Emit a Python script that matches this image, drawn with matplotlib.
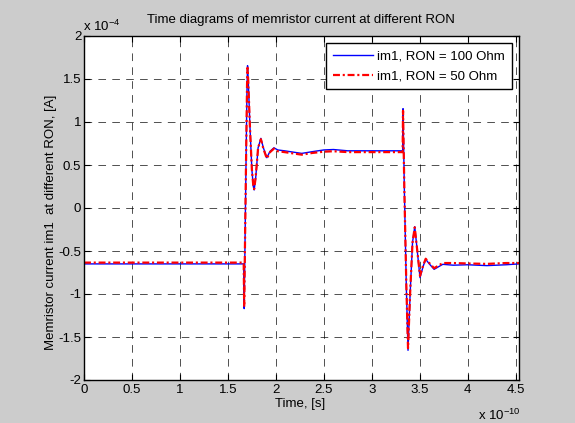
import numpy as np
import matplotlib
matplotlib.use('Agg')
import matplotlib.pyplot as plt

plt.rcParams['font.family'] = ['Liberation Sans', 'DejaVu Sans']
plt.rcParams['mathtext.fontset'] = 'custom'
plt.rcParams['mathtext.rm'] = 'Liberation Sans'
plt.rcParams['mathtext.it'] = 'Liberation Sans'
plt.rcParams['axes.unicode_minus'] = False
plt.rcParams['lines.scale_dashes'] = False

# time in units of 1e-10 s, current in units of 1e-4 A
t_100 = [0.0, 1.665, 1.670, 1.690, 1.700, 1.705, 1.712, 1.730, 1.750, 1.765, 1.774,
         1.790, 1.815, 1.844, 1.870, 1.906, 1.940, 1.980, 2.020, 2.090, 2.180,
         2.270, 2.380, 2.500, 2.600, 2.750, 3.000, 3.200, 3.322, 3.326, 3.340,
         3.360, 3.378, 3.400, 3.425, 3.448, 3.470, 3.503, 3.535, 3.5625, 3.600,
         3.650, 3.740, 3.850, 4.000, 4.200, 4.400, 4.535]
i_100 = [-0.650, -0.650, -1.170, 0.600, 1.450, 1.655, 1.500, 0.950, 0.450, 0.250, 0.210,
         0.350, 0.700, 0.810, 0.700, 0.585, 0.660, 0.700, 0.675, 0.665, 0.650,
         0.635, 0.655, 0.675, 0.680, 0.665, 0.665, 0.665, 0.665, 1.155, 0.200,
         -0.900, -1.655, -1.000, -0.400, -0.217, -0.450, -0.810, -0.680, -0.597, -0.650,
         -0.713, -0.655, -0.665, -0.660, -0.670, -0.660, -0.650]

t_50 = [0.0, 1.665, 1.670, 1.690, 1.700, 1.705, 1.712, 1.730, 1.750, 1.765, 1.774,
        1.790, 1.815, 1.844, 1.870, 1.906, 1.940, 1.980, 2.020, 2.090, 2.180,
        2.270, 2.380, 2.500, 2.600, 2.750, 3.000, 3.200, 3.322, 3.326, 3.340,
        3.360, 3.378, 3.400, 3.425, 3.448, 3.470, 3.503, 3.535, 3.5625, 3.600,
        3.650, 3.740, 3.850, 4.000, 4.200, 4.400, 4.535]
i_50 = [-0.635, -0.635, -1.150, 0.600, 1.440, 1.630, 1.480, 0.940, 0.450, 0.260, 0.220,
        0.360, 0.700, 0.800, 0.690, 0.575, 0.650, 0.690, 0.660, 0.650, 0.635,
        0.620, 0.640, 0.655, 0.660, 0.650, 0.650, 0.650, 0.650, 1.130, 0.200,
        -0.880, -1.630, -0.990, -0.400, -0.225, -0.450, -0.790, -0.670, -0.590, -0.640,
        -0.700, -0.640, -0.640, -0.645, -0.650, -0.640, -0.640]

x_ticks = [0, 0.5, 1, 1.5, 2, 2.5, 3, 3.5, 4, 4.5]
y_ticks = [-2, -1.5, -1, -0.5, 0, 0.5, 1, 1.5, 2]

fig = plt.figure(figsize=(5.75, 4.23), dpi=100, facecolor='#cccccc')
ax = fig.add_axes([84/575, 1 - 380/423, (519 - 84)/575, (380 - 36)/423])

ax.plot(t_100, i_100, color=(0, 0, 1), lw=1.0, label='im1, RON = 100 Ohm')
ax.plot(t_50, i_50, color=(1, 0, 0), lw=1.6, dashes=(5, 2, 1.5, 2),
        label='im1, RON = 50 Ohm')

ax.set_xlim(0, 4.535)
ax.set_ylim(-2, 2)
ax.set_xticks(x_ticks)
ax.set_yticks(y_ticks)
ax.set_xticklabels(['%g' % v for v in x_ticks])
ax.set_yticklabels(['%g' % v for v in y_ticks])
ax.tick_params(direction='in', top=True, right=True, length=4, width=0.8,
               labelsize=9.5)
ax.tick_params(axis='x', pad=3)
ax.tick_params(axis='y', pad=2)
for s in ax.spines.values():
    s.set_linewidth(1.0)
ax.grid(True, color='k', linestyle=(0, (5.5, 4.5)), linewidth=0.6, alpha=0.8)

leg = ax.legend(loc='upper right', fontsize=9.5, fancybox=False, framealpha=1,
                edgecolor='k', borderaxespad=0.55, handlelength=3.0,
                handletextpad=0.3, borderpad=0.55, labelspacing=0.55)
leg.get_frame().set_linewidth(1.0)

fig.text(301/575, 1 - 20/423, 'Time diagrams of memristor current at different RON',
         ha='center', va='center', fontsize=9.5)
fig.text(300/575, 1 - 407/423, 'Time, [s]', ha='center', va='baseline', fontsize=9.5)
fig.text(51/575, 1 - 222/423, 'Memristor current im1  at different RON, [A]',
         ha='center', va='center', rotation=90, fontsize=9.5)
fig.text(83/575, 1 - 31/423, r'x 10$^{-4}$', ha='left', va='baseline', fontsize=9.5)
fig.text(521/575, 1 - 420/423, r'x 10$^{-10}$', ha='right', va='baseline', fontsize=9.5)

fig.savefig('out.png', dpi=100, facecolor=fig.get_facecolor())
